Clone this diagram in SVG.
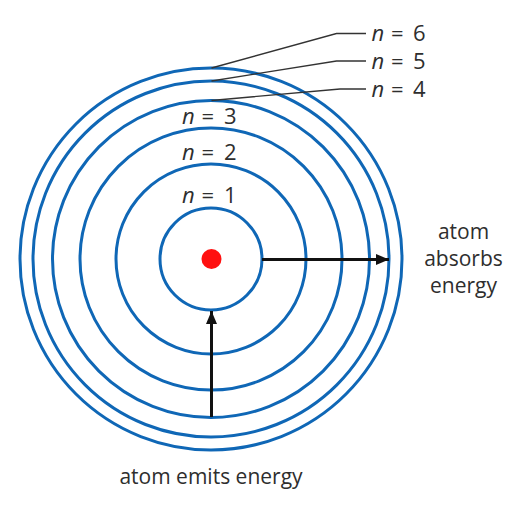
<svg xmlns="http://www.w3.org/2000/svg" width="529" height="510" viewBox="0 0 529 510">
  <style>
    .orbit { fill: none; stroke: #0f67b6; stroke-width: 3; }
    .lbl { font-family: "Open Sans", "Liberation Sans", sans-serif; font-size: 22px; fill: #2e2e2e; }
    .it { font-style: italic; }
    .cap { font-family: "Open Sans", "Liberation Sans", sans-serif; font-size: 21px; fill: #2e2e2e; text-anchor: middle; }
    .leader { fill: none; stroke: #333333; stroke-width: 1.3; }
    .arrow { fill: none; stroke: #111111; stroke-width: 3; }
  </style>
  <defs>
    <marker id="head" markerUnits="userSpaceOnUse" markerWidth="13" markerHeight="11" refX="13" refY="5.5" orient="auto">
      <path d="M0,0 L13,5.5 L0,11 z" fill="#111111"/>
    </marker>
  </defs>
  <rect width="529" height="510" fill="#ffffff"/>

  <g id="orbit-6"><circle class="orbit" cx="211" cy="259" r="191"/></g>
  <g id="orbit-5"><circle class="orbit" cx="211" cy="259" r="178"/></g>
  <g id="orbit-4"><circle class="orbit" cx="211" cy="259" r="158.5"/></g>
  <g id="orbit-3">
    <circle class="orbit" cx="211" cy="259" r="131"/>
    <text class="lbl" y="124"><tspan class="it" x="182">n</tspan><tspan x="201.5">=</tspan><tspan x="224">3</tspan></text>
  </g>
  <g id="orbit-2">
    <circle class="orbit" cx="211" cy="259" r="95"/>
    <text class="lbl" y="160"><tspan class="it" x="182">n</tspan><tspan x="201.5">=</tspan><tspan x="224">2</tspan></text>
  </g>
  <g id="orbit-1">
    <circle class="orbit" cx="211" cy="259" r="51"/>
    <text class="lbl" y="203"><tspan class="it" x="182">n</tspan><tspan x="201.5">=</tspan><tspan x="224">1</tspan></text>
  </g>
  <g id="nucleus"><circle cx="211.5" cy="259" r="10" fill="#ff1010"/></g>

  <g id="label-n6"><text class="lbl" y="41"><tspan class="it" x="371.5">n</tspan><tspan x="391">=</tspan><tspan x="413">6</tspan></text></g>
  <g id="label-n5"><text class="lbl" y="69"><tspan class="it" x="371.5">n</tspan><tspan x="391">=</tspan><tspan x="413">5</tspan></text></g>
  <g id="label-n4"><text class="lbl" y="97"><tspan class="it" x="371.5">n</tspan><tspan x="391">=</tspan><tspan x="413">4</tspan></text></g>

  <g id="label-absorbs">
    <text class="cap" x="463.5" y="238.5">atom</text>
    <text class="cap" x="463.5" y="266">absorbs</text>
    <text class="cap" x="463.5" y="293">energy</text>
  </g>
  <g id="label-emits">
    <text class="cap" x="211" y="484">atom emits energy</text>
  </g>

  <g id="connectors">
    <polyline class="leader" points="211.5,68 336.5,33.5 366,33.5"/>
    <polyline class="leader" points="211.5,81 336.5,61 366,61"/>
    <polyline class="leader" points="211.5,100.5 340,89 366,89"/>
    <line class="arrow" x1="262" y1="259.5" x2="389" y2="259.5" marker-end="url(#head)"/>
    <line class="arrow" x1="211.5" y1="417" x2="211.5" y2="311" marker-end="url(#head)"/>
  </g>
</svg>
